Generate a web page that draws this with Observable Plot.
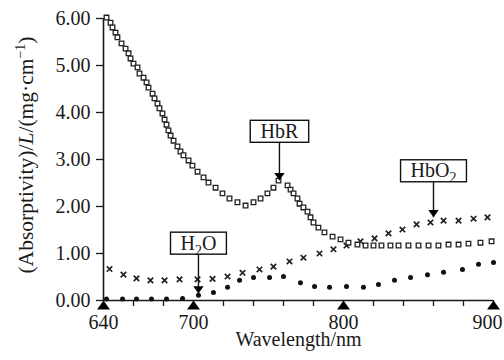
<!DOCTYPE html>
<html>
<head>
<meta charset="utf-8">
<script src="https://cdn.jsdelivr.net/npm/d3@7"></script>
<script src="https://cdn.jsdelivr.net/npm/@observablehq/plot@0.6"></script>
<style>
  html, body { margin: 0; padding: 0; background: #fff; }
  svg { font-family: "Liberation Serif", "Times New Roman", serif; }
</style>
</head>
<body>
<div id="chart"></div>
<script>
// ---- data ----
const hbrWavelength = [642.0,644.7,646.0,648.0,649.3,652.0,654.7,656.7,658.0,660.0,
  662.7,664.0,666.7,668.7,670.0,672.7,674.0,676.0,677.3,679.3,
  680.7,682.0,683.3,684.7,686.7,689.3,691.3,693.3,696.7,699.3,
  702.7,706.7,710.0,714.7,719.3,724.0,729.3,734.7,740.0,744.7,
  749.3,753.3,756.7,762.7,764.7,766.7,769.3,770.7,773.3,776.0,
  778.0,780.0,783.3,787.3,792.7,798.0,803.3,809.3,814.7,820.0,
  825.3,831.3,836.7,843.3,850.0,856.7,863.3,870.0,876.7,883.3,
  891.3,898.7];
const hbrValue = [6.02,5.91,5.81,5.70,5.60,5.47,5.36,5.26,5.15,5.04,
  4.96,4.83,4.74,4.64,4.53,4.40,4.30,4.19,4.09,3.98,
  3.85,3.74,3.62,3.51,3.40,3.28,3.17,3.09,2.98,2.87,
  2.74,2.62,2.51,2.40,2.28,2.17,2.09,2.02,2.09,2.17,
  2.28,2.40,2.55,2.45,2.36,2.28,2.17,2.06,1.98,1.89,
  1.77,1.66,1.55,1.45,1.36,1.30,1.23,1.19,1.17,1.17,
  1.17,1.17,1.17,1.17,1.17,1.17,1.17,1.19,1.19,1.21,
  1.23,1.26];

const hbo2Wavelength = [644.0,653.3,662.0,671.3,680.7,690.7,702.7,712.7,722.7,732.7,
  744.0,753.3,764.0,773.3,784.0,793.3,802.0,811.3,820.7,830.0,
  839.3,848.7,858.0,866.7,876.7,886.7,896.0];
const hbo2Value = [0.67,0.55,0.47,0.43,0.43,0.45,0.45,0.46,0.51,0.59,
  0.66,0.72,0.83,0.91,1.00,1.09,1.17,1.26,1.32,1.43,
  1.51,1.62,1.66,1.70,1.70,1.74,1.77];

const h2oWavelength = [642.0,652.7,662.0,672.0,682.0,692.7,703.3,713.3,722.7,730.7,
  740.0,750.7,760.0,771.3,780.7,790.7,802.0,813.3,823.3,834.0,
  844.7,856.0,866.7,879.3,890.0,900.0];
const h2oValue = [0.03,0.03,0.03,0.03,0.03,0.04,0.11,0.17,0.28,0.43,
  0.49,0.49,0.51,0.38,0.30,0.28,0.30,0.28,0.34,0.43,
  0.49,0.55,0.60,0.66,0.77,0.81];

// callouts: label, wavelength, arrow-tip value, box-centre value
const calloutLabel = ["HbR", "H2O", "HbO2"];
const calloutWavelength = [757.3, 703.3, 860.0];
const calloutTip = [2.56, 0.15, 1.77];
const calloutBox = [3.60, 1.22, 2.76];

// axes
const xDomain = [640, 900];
const yDomain = [0, 6];
const xLabelTicks = [640, 700, 800];
const xLastTick = [900];
const xMarkerTicks = [640, 700, 800, 900];
const xAllTicks = [640,660,680,700,720,740,760,780,800,820,840,860,880,900];
const yTicks = [0, 1, 2, 3, 4, 5, 6];
const xTitle = "Wavelength/nm";

// ---- custom symbols (apex at the data point) ----
const upTriangle = { draw(ctx, size) { const r = Math.sqrt(size / Math.PI); const w = r * 1.3, h = r * 1.8;
  ctx.moveTo(0, 0); ctx.lineTo(w, h); ctx.lineTo(-w, h); ctx.closePath(); } };
const downTriangle = { draw(ctx, size) { const r = Math.sqrt(size / Math.PI); const w = r * 1.3, h = r * 1.8;
  ctx.moveTo(0, 0); ctx.lineTo(w, -h); ctx.lineTo(-w, -h); ctx.closePath(); } };

const ink = "#1a1a1a";

const chart = Plot.plot({
  width: 504,
  height: 360,
  marginLeft: 103,
  marginRight: 11,
  marginTop: 18,
  marginBottom: 60,
  style: { fontFamily: '"Liberation Serif", "Times New Roman", serif', fontSize: "20px", color: ink, background: "#fff" },
  x: { domain: xDomain, labelArrow: "none" },
  y: { domain: yDomain },
  marks: [
    Plot.axisX(xAllTicks, { tickSize: 6, tickFormat: () => "", label: null, strokeWidth: 1.3 }),
    Plot.axisX(xLabelTicks, { tickSize: 0, tickPadding: 14, tickFormat: d => String(d),
      label: xTitle, labelAnchor: "center", labelArrow: "none", labelOffset: 45 }),
    Plot.axisX(xLastTick, { tickSize: 0, tickPadding: 14, tickFormat: d => String(d), label: null, dx: -6 }),
    Plot.axisY(yTicks, { tickSize: 7, tickPadding: 6, tickFormat: d => d.toFixed(2), label: null, strokeWidth: 1.3 }),
    Plot.ruleY([0], { stroke: ink, strokeWidth: 1.6 }),
    Plot.ruleX([640], { stroke: ink, strokeWidth: 1.6 }),
    Plot.dot(xMarkerTicks, { x: d => d, y: () => 0, symbol: upTriangle, r: 5, fill: "#000", stroke: "none" }),
    // series
    Plot.dot(h2oWavelength, { x: h2oWavelength, y: h2oValue, r: 2.5, fill: "#111", stroke: "none" }),
    Plot.dot(hbo2Wavelength, { x: hbo2Wavelength, y: hbo2Value, symbol: "times", r: 2.6, stroke: "#222", strokeWidth: 1.7 }),
    Plot.dot(hbrWavelength, { x: hbrWavelength, y: hbrValue, symbol: "square", r: 2.6, stroke: "#222", strokeWidth: 1.3, fill: "#fff" }),
    // callouts
    Plot.link(calloutLabel, { x1: calloutWavelength, x2: calloutWavelength, y1: calloutBox, y2: calloutTip, stroke: "#111", strokeWidth: 1.4 }),
    Plot.dot(calloutLabel, { x: calloutWavelength, y: calloutTip, symbol: downTriangle, r: 4, fill: "#000", stroke: "none" }),
    Plot.text(calloutLabel, { x: calloutWavelength, y: calloutBox, text: d => d, fontSize: 20, fill: ink })
  ]
});

document.getElementById("chart").appendChild(chart);

// ---- post-process: subscripts, boxes, y-axis title ----
const svg = d3.select(chart);
const xs = chart.scale("x"), ys = chart.scale("y");
const ns = "http://www.w3.org/2000/svg";
Array.from(chart.querySelectorAll("text"))
  .filter(t => t.textContent.startsWith(xTitle))
  .forEach(t => { if (t.textContent !== xTitle) t.textContent = xTitle; });

Array.from(chart.querySelectorAll("text"))
  .filter(t => calloutLabel.includes(t.textContent))
  .forEach(t => {
    const label = t.textContent;
    const idx = calloutLabel.indexOf(label);
    const m = label.match(/^(.*?)(\d)(.*)$/);
    if (m) {
      t.textContent = "";
      const a = document.createElementNS(ns, "tspan"); a.textContent = m[1]; t.appendChild(a);
      const s = document.createElementNS(ns, "tspan"); s.textContent = m[2];
      s.setAttribute("font-size", "14"); s.setAttribute("dy", "5"); t.appendChild(s);
      if (m[3]) { const c = document.createElementNS(ns, "tspan"); c.textContent = m[3]; c.setAttribute("dy", "-5"); t.appendChild(c); }
    }
    const bb = t.getBBox();
    const cx = xs.apply(calloutWavelength[idx]);
    const cy = ys.apply(calloutBox[idx]);
    const w = bb.width + 20;
    const rect = document.createElementNS(ns, "rect");
    rect.setAttribute("x", cx - w / 2);
    rect.setAttribute("width", w);
    rect.setAttribute("y", cy - 11);
    rect.setAttribute("height", 22);
    rect.setAttribute("fill", "#fff");
    rect.setAttribute("stroke", "#111");
    rect.setAttribute("stroke-width", 1.4);
    t.parentNode.insertBefore(rect, t);
  });

const yt = svg.append("text")
  .attr("transform", "translate(25,155) rotate(-90)")
  .attr("text-anchor", "middle")
  .attr("dy", "0.35em")
  .attr("font-size", 21.5)
  .attr("fill", ink);
yt.append("tspan").text("(Absorptivity)/");
yt.append("tspan").attr("font-style", "italic").text("L");
yt.append("tspan").text("/(mg·cm");
yt.append("tspan").attr("font-size", 14).attr("dy", -8).text("−1");
yt.append("tspan").attr("dy", 8).text(")");
</script>
</body>
</html>
